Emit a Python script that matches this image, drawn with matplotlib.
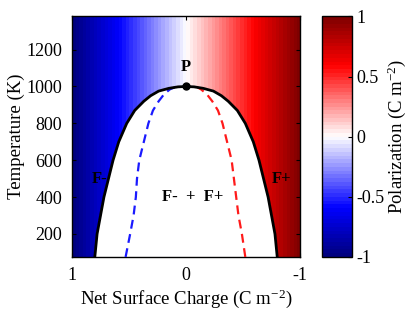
import numpy as np
import matplotlib
matplotlib.use("Agg")
import matplotlib.pyplot as plt
from matplotlib.colors import LinearSegmentedColormap

plt.rcParams['font.family'] = ['Liberation Serif', 'DejaVu Serif']
plt.rcParams['mathtext.fontset'] = 'custom'
plt.rcParams['mathtext.rm'] = 'Liberation Serif'
plt.rcParams['mathtext.it'] = 'Liberation Serif:italic'

# binodal (black) boundary, left half: temperature (K) vs net surface charge
T_bin = [75, 200, 300, 400, 500, 600, 700, 800, 870, 920, 950, 975, 990, 998, 1000]
sig_bin = [0.80, 0.78, 0.75, 0.72, 0.68, 0.64, 0.59, 0.52, 0.45, 0.37, 0.31, 0.24, 0.15, 0.07, 0.0]

# spinodals (dashed)
T_spin = [75, 200, 300, 400, 500, 600, 700, 800, 870, 920, 960, 985, 995]
sig_spin_left = [0.53, 0.49, 0.46, 0.44, 0.43, 0.41, 0.37, 0.33, 0.29, 0.24, 0.19, 0.14, 0.10]
sig_spin_right = [-0.52, -0.49, -0.46, -0.44, -0.42, -0.40, -0.36, -0.32, -0.28, -0.23, -0.18, -0.13, -0.10]

# critical point
P_sig, P_T = 0.0, 1000

cbar_ticks = [-1, -0.5, 0, 0.5, 1]
cbar_labels = ['-1', '-0.5', '0', '0.5', '1']

cmap = LinearSegmentedColormap.from_list(
    'bwr_dark',
    [(0.0, (0.0, 0.0, 0.5)), (0.2, (0.0, 0.0, 1.0)), (0.5, (1.0, 1.0, 1.0)),
     (0.8, (1.0, 0.0, 0.0)), (1.0, (0.5, 0.0, 0.0))], N=64)

fig = plt.figure(figsize=(4.15, 3.10), dpi=100)
ax = fig.add_axes([0.1735, 0.171, 0.5495, 0.776])
cax = fig.add_axes([0.776, 0.171, 0.0723, 0.776])

ylo, yhi = 75, 1380
sig_grid = np.linspace(1, -1, 400)
pol = -sig_grid
im = ax.imshow(np.tile(pol, (2, 1)), extent=[1, -1, ylo, yhi], aspect='auto',
               cmap=cmap, vmin=-1, vmax=1, interpolation='nearest', origin='lower')

# full dome (mirror of the left half)
dome_sig = list(sig_bin) + [-s for s in sig_bin[::-1]]
dome_T = list(T_bin) + list(T_bin[::-1])
ax.fill(dome_sig, dome_T, color='white', zorder=2)
ax.plot(dome_sig, dome_T, color='black', lw=2.0, zorder=4)

ax.plot(sig_spin_left, T_spin, color='#1a1aff', lw=1.6, ls=(0, (4, 2.5)), zorder=3)
ax.plot(sig_spin_right, T_spin, color='#ff1a1a', lw=1.6, ls=(0, (4, 2.5)), zorder=3)
ax.plot([P_sig], [P_T], 'o', color='black', ms=5, zorder=5)

ax.text(0.0, 1105, 'P', ha='center', va='center', fontsize=12, fontweight='bold')
ax.text(0.76, 500, 'F-', ha='center', va='center', fontsize=12, fontweight='bold')
ax.text(-0.84, 500, 'F+', ha='center', va='center', fontsize=12, fontweight='bold')
ax.text(-0.06, 400, 'F-  +  F+', ha='center', va='center', fontsize=12, fontweight='bold')

ax.set_xlim(1, -1)
ax.set_ylim(ylo, yhi)
ax.set_xticks([1, 0, -1])
ax.set_xticklabels(['1', '0', '-1'])
ax.set_yticks([200, 400, 600, 800, 1000, 1200])
ax.tick_params(direction='in', top=True, right=True, length=3, labelsize=13, pad=7)
ax.set_xlabel('Net Surface Charge (C m$^{\\mathrm{-2}}$)', fontsize=13.5, labelpad=3)
ax.set_ylabel('Temperature (K)', fontsize=13.5, labelpad=1)
for s in ax.spines.values():
    s.set_linewidth(1.0)

cb = fig.colorbar(im, cax=cax, ticks=cbar_ticks)
cb.ax.set_yticklabels(cbar_labels)
cb.ax.tick_params(direction='in', length=3, labelsize=13, pad=3)
cb.set_label('Polarization (C m$^{\\mathrm{-2}}$)', fontsize=13.5, labelpad=1)
cb.outline.set_linewidth(1.0)

fig.savefig('out.png', dpi=100)
